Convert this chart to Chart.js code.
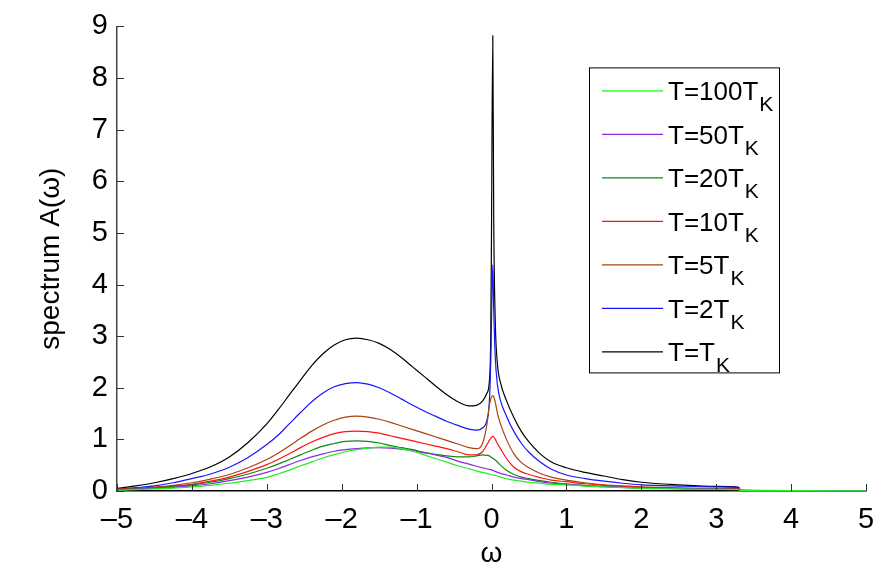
<!DOCTYPE html>
<html>
<head>
<meta charset="utf-8">
<script src="https://cdn.jsdelivr.net/npm/chart.js@4/dist/chart.umd.min.js"></script>
<style>
  html, body { margin: 0; padding: 0; background: #fff; }
  #spectrumChart { display: block; }
</style>
</head>
<body>
<canvas id="spectrumChart" width="892" height="571"></canvas>
<script>
// frequency grid (denser around the Kondo peak at omega = 0)
const omega = [-5, -4.75, -4.5, -4.25, -4, -3.75, -3.5, -3.25, -3, -2.85, -2.7, -2.55, -2.4, -2.25, -2.1, -1.95, -1.8,
    -1.65, -1.5, -1.35, -1.2, -1.05, -0.9, -0.75, -0.6, -0.45, -0.3, -0.2, -0.12, -0.06, -0.03, -0.01, 0, 0.017, 0.03,
    0.05, 0.08, 0.12, 0.2, 0.3, 0.4, 0.5, 0.65, 0.8, 1, 1.25, 1.5, 1.75, 2, 2.5, 3, 3.3, 3.32, 4, 5];

// spectrum A(omega) for each temperature
const specT100 = [0.015, 0.025, 0.04, 0.055, 0.08, 0.11, 0.15, 0.2, 0.265, 0.33, 0.405, 0.485, 0.565, 0.64, 0.705, 0.76, 0.8,
    0.83, 0.85, 0.85, 0.82, 0.77, 0.7, 0.63, 0.56, 0.49, 0.43, 0.39, 0.36, 0.34, 0.33, 0.32, 0.315, 0.31, 0.305,
    0.3, 0.29, 0.27, 0.24, 0.21, 0.19, 0.17, 0.15, 0.13, 0.12, 0.095, 0.08, 0.065, 0.05, 0.04, 0.03, 0.025, 0.008, 0.006, 0.003];
const specT50 = [0.02, 0.035, 0.05, 0.07, 0.1, 0.14, 0.2, 0.27, 0.36, 0.43, 0.51, 0.59, 0.66, 0.72, 0.77, 0.8, 0.82,
    0.835, 0.84, 0.83, 0.81, 0.78, 0.74, 0.7, 0.65, 0.58, 0.52, 0.48, 0.45, 0.43, 0.42, 0.415, 0.41, 0.4, 0.39,
    0.38, 0.36, 0.34, 0.31, 0.27, 0.24, 0.22, 0.18, 0.15, 0.13, 0.1, 0.085, 0.07, 0.06, 0.045, 0.035, 0.03, 0.008, 0.006, 0.003];
const specT20 = [0.02, 0.04, 0.06, 0.085, 0.12, 0.17, 0.24, 0.33, 0.44, 0.52, 0.61, 0.7, 0.79, 0.87, 0.92, 0.96, 0.97,
    0.96, 0.93, 0.88, 0.84, 0.8, 0.75, 0.71, 0.68, 0.66, 0.66, 0.68, 0.7, 0.69, 0.68, 0.66, 0.65, 0.64, 0.62,
    0.6, 0.56, 0.5, 0.4, 0.32, 0.27, 0.24, 0.2, 0.17, 0.14, 0.11, 0.09, 0.07, 0.06, 0.045, 0.035, 0.03, 0.008, 0.006, 0.003];
const specT10 = [0.03, 0.045, 0.065, 0.095, 0.13, 0.19, 0.27, 0.38, 0.51, 0.61, 0.72, 0.84, 0.95, 1.04, 1.11, 1.15, 1.16,
    1.15, 1.12, 1.07, 1.02, 0.97, 0.92, 0.87, 0.82, 0.76, 0.7, 0.7, 0.76, 0.9, 0.98, 1.02, 1.04, 1.06, 1.05,
    1.0, 0.92, 0.82, 0.63, 0.46, 0.37, 0.32, 0.26, 0.21, 0.18, 0.14, 0.11, 0.09, 0.07, 0.05, 0.04, 0.035, 0.01, 0.007, 0.004];
const specT5 = [0.03, 0.05, 0.075, 0.11, 0.16, 0.23, 0.32, 0.45, 0.61, 0.73, 0.87, 1.02, 1.16, 1.28, 1.37, 1.43, 1.45,
    1.43, 1.39, 1.33, 1.26, 1.19, 1.12, 1.05, 0.98, 0.91, 0.84, 0.82, 0.92, 1.3, 1.65, 1.78, 1.82, 1.85, 1.82,
    1.72, 1.5, 1.3, 1.0, 0.72, 0.55, 0.45, 0.34, 0.27, 0.21, 0.16, 0.12, 0.1, 0.08, 0.06, 0.05, 0.045, 0.01, 0.008, 0.004];
const specT2 = [0.04, 0.065, 0.1, 0.16, 0.24, 0.33, 0.46, 0.65, 0.9, 1.08, 1.3, 1.52, 1.73, 1.9, 2.02, 2.08, 2.1,
    2.07, 2.0, 1.9, 1.78, 1.66, 1.55, 1.45, 1.35, 1.27, 1.2, 1.18, 1.22, 1.38, 1.7, 2.5, 3.3, 4.38, 3.5,
    2.6, 2.05, 1.75, 1.45, 1.15, 0.92, 0.75, 0.56, 0.42, 0.31, 0.24, 0.19, 0.15, 0.12, 0.095, 0.08, 0.07, 0.012, 0.008, 0.004];
const specT1 = [0.05, 0.1, 0.16, 0.24, 0.34, 0.47, 0.66, 0.94, 1.3, 1.57, 1.86, 2.15, 2.43, 2.66, 2.83, 2.93, 2.96,
    2.93, 2.86, 2.74, 2.58, 2.4, 2.22, 2.04, 1.87, 1.73, 1.65, 1.66, 1.74, 1.9, 2.1, 3.0, 5.0, 8.82, 5.2,
    3.3, 2.45, 2.1, 1.75, 1.42, 1.15, 0.95, 0.72, 0.56, 0.45, 0.36, 0.29, 0.22, 0.17, 0.12, 0.09, 0.07, 0.015, 0.01, 0.005];

const seriesNames = ['T=100T', 'T=50T', 'T=20T', 'T=10T', 'T=5T', 'T=2T', 'T=T'];
const seriesSub = 'K';
const seriesData = [specT100, specT50, specT20, specT10, specT5, specT2, specT1];
const seriesColors = ['#22ee22', '#8a2be2', '#118811', '#ff1111', '#a84410', '#1515ff', '#000000'];

const xTicks = [-5, -4, -3, -2, -1, 0, 1, 2, 3, 4, 5];
const yTicks = [0, 1, 2, 3, 4, 5, 6, 7, 8, 9];

const tickFont = "'Liberation Sans Narrow', 'Liberation Sans', Arial, sans-serif";
const textFont = "'Liberation Sans', Arial, sans-serif";

// MATLAB style inward tick marks on left and bottom axes
const inwardTicks = {
    id: 'inwardTicks',
    afterDatasetsDraw(chart) {
        const ctx = chart.ctx;
        const area = chart.chartArea;
        const xs = chart.scales.x, ys = chart.scales.y;
        ctx.save();
        ctx.strokeStyle = '#333';
        ctx.lineWidth = 1;
        ctx.beginPath();
        xTicks.forEach(function(v) {
            const px = Math.round(xs.getPixelForValue(v)) + 0.5;
            ctx.moveTo(px, area.bottom);
            ctx.lineTo(px, area.bottom - 7);
        });
        yTicks.forEach(function(v) {
            const py = Math.round(ys.getPixelForValue(v)) + 0.5;
            ctx.moveTo(area.left, py);
            ctx.lineTo(area.left + 7, py);
        });
        ctx.stroke();
        ctx.restore();
    }
};

// legend box with subscript K
const subLegend = {
    id: 'subLegend',
    afterDraw(chart) {
        const ctx = chart.ctx;
        const area = chart.chartArea;
        const boxL = area.right - 277, boxT = area.top + 41;
        const boxW = 190, boxH = 305;
        ctx.save();
        ctx.fillStyle = '#fff';
        ctx.fillRect(boxL, boxT, boxW, boxH);
        ctx.strokeStyle = '#000';
        ctx.lineWidth = 1;
        ctx.strokeRect(boxL + 0.5, boxT + 0.5, boxW, boxH);
        chart.data.datasets.forEach(function(ds, i) {
            const cy = boxT + 23 + i * 43.5;
            ctx.strokeStyle = ds.borderColor;
            ctx.lineWidth = 1.2;
            ctx.beginPath();
            ctx.moveTo(boxL + 13, cy + 0.5);
            ctx.lineTo(boxL + 74, cy + 0.5);
            ctx.stroke();
            ctx.fillStyle = '#000';
            ctx.textBaseline = 'alphabetic';
            ctx.font = '26px ' + textFont;
            ctx.fillText(seriesNames[i], boxL + 79, cy + 10);
            const w = ctx.measureText(seriesNames[i]).width;
            ctx.font = '21px ' + textFont;
            ctx.fillText(seriesSub, boxL + 80 + w, cy + 21);
        });
        ctx.restore();
    }
};

const datasets = seriesData.map(function(vals, i) {
    return {
        label: seriesNames[i] + seriesSub,
        data: omega.map(function(w, j) { return { x: w, y: vals[j] }; }),
        borderColor: seriesColors[i],
        backgroundColor: seriesColors[i],
        borderWidth: 1.2,
        pointRadius: 0,
        fill: false,
        cubicInterpolationMode: 'monotone'
    };
});

new Chart(document.getElementById('spectrumChart'), {
    type: 'line',
    data: { datasets: datasets },
    options: {
        responsive: false,
        animation: false,
        layout: { padding: { top: 19, right: 26, left: 0, bottom: 0 } },
        plugins: {
            legend: { display: false },
            tooltip: { enabled: false }
        },
        scales: {
            x: {
                type: 'linear',
                min: -5,
                max: 5,
                afterFit: function(scale) { scale.height = 80; },
                afterBuildTicks: function(scale) { scale.ticks = xTicks.map(function(v) { return { value: v }; }); },
                grid: { drawOnChartArea: false, drawTicks: false },
                border: { display: true, color: '#000', width: 1.5 },
                ticks: {
                    color: '#000',
                    padding: 12,
                    maxRotation: 0,
                    font: { family: tickFont, size: 29 },
                    callback: function(v) { return v < 0 ? '\u2013' + Math.abs(v) : String(v); }
                },
                title: {
                    display: true,
                    text: 'ω',
                    color: '#000',
                    font: { family: textFont, size: 28 },
                    padding: { top: 10, bottom: 0 }
                }
            },
            y: {
                type: 'linear',
                min: 0,
                max: 9,
                afterFit: function(scale) { scale.width = 117; },
                afterBuildTicks: function(scale) { scale.ticks = yTicks.map(function(v) { return { value: v }; }); },
                grid: { drawOnChartArea: false, drawTicks: false },
                border: { display: true, color: '#444', width: 1.5 },
                ticks: {
                    color: '#000',
                    padding: 9,
                    font: { family: tickFont, size: 29 }
                },
                title: {
                    display: true,
                    text: 'spectrum A(ω)',
                    color: '#000',
                    font: { family: textFont, size: 28 },
                    padding: { top: 34, bottom: 0 }
                }
            }
        }
    },
    plugins: [inwardTicks, subLegend]
});
</script>
</body>
</html>
